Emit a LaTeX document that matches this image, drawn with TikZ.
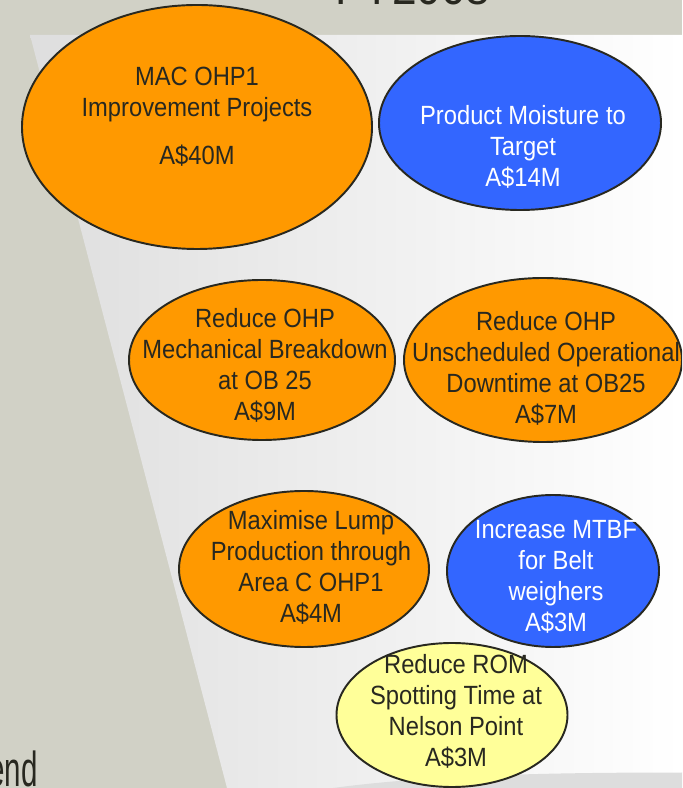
\documentclass[tikz,border=0pt]{standalone}
\usepackage{fontspec}
\setmainfont{Liberation Sans}[FakeStretch=0.9]
\newfontfamily\legendfont{Liberation Sans}[FakeStretch=0.6]
\usetikzlibrary{
  shapes.geometric
}

\definecolor{bggray}{RGB}{209,209,198}
\definecolor{funnelgray}{RGB}{222,222,222}
\definecolor{bandgray}{RGB}{221,221,221}
\definecolor{inkdark}{RGB}{40,40,32}
\definecolor{projorange}{RGB}{255,153,0}
\definecolor{projblue}{RGB}{51,102,255}
\definecolor{projyellow}{RGB}{255,255,153}

\begin{document}
\begin{tikzpicture}

\tikzset{
  project/.style={
    draw=inkdark,
    ellipse,
    line width=1.1pt,
    inner sep=0pt
  },
  orangeproj/.style={project, fill=projorange},
  blueproj/.style={project, fill=projblue},
  yellowproj/.style={project, fill=projyellow},
  projtext/.style={
    align=center,
    inner sep=0pt,
    text=inkdark,
    font=\fontsize{15}{17.6}\selectfont
  },
  whitetext/.style={projtext, text=white}
}

% Background and funnel
\clip (0,0) rectangle (13.64,15.76);
\fill[bggray] (0,0) rectangle (13.64,15.76);
\shade[left color=funnelgray, right color=white]
  (0.60,15.06) -- (13.64,15.06) -- (13.64,0) -- (4.54,0) -- cycle;
\fill[bandgray] (6.66,0) .. controls (8.6,0.26) and (11.0,0.31) .. (13.64,0.31) -- (13.64,0) -- cycle;

% Headings (cut by the frame)
\node[anchor=base, text=inkdark, font=\fontsize{28}{32}\selectfont] (title) at (8.26,15.66) {FY2008};
\node[anchor=base east, text=inkdark, font=\legendfont\fontsize{28}{32}\selectfont] (legend) at (0.88,0.02) {Legend};

% Nodes ellipses
\node[orangeproj, minimum width=7.00cm, minimum height=4.88cm] (mac)    at (3.94,13.22) {};
\node[blueproj,   minimum width=5.64cm, minimum height=3.48cm] (moist)  at (10.40,13.30) {};
\node[orangeproj, minimum width=5.32cm, minimum height=3.20cm] (mech)   at (5.24,8.56) {};
\node[orangeproj, minimum width=5.56cm, minimum height=3.28cm] (unsch)  at (10.86,8.56) {};
\node[orangeproj, minimum width=5.00cm, minimum height=3.12cm] (lump)   at (6.08,4.38) {};
\node[blueproj,   minimum width=4.24cm, minimum height=3.04cm] (mtbf)   at (11.06,4.34) {};
\node[yellowproj, minimum width=4.62cm, minimum height=2.88cm] (rom)    at (9.04,1.46) {};

% Nodes texts
\node[projtext]  (mac-t)   at (3.94,13.43)  {MAC OHP1\\Improvement Projects\\[0.34cm]A\$40M};
\node[whitetext] (moist-t) at (10.46,12.82) {Product Moisture to\\Target\\A\$14M};
\node[projtext]  (mech-t)  at (5.30,8.46)   {Reduce OHP\\Mechanical Breakdown\\at OB 25\\A\$9M};
\node[projtext]  (unsch-t) at (10.92,8.40)  {Reduce OHP\\Unscheduled Operational\\Downtime at OB25\\A\$7M};
\node[projtext]  (lump-t)  at (6.22,4.42)   {Maximise Lump\\Production through\\Area C OHP1\\A\$4M};
\node[whitetext] (mtbf-t)  at (11.12,4.22)  {Increase MTBF\\for Belt\\weighers\\A\$3M};
\node[projtext]  (rom-t)   at (9.12,1.54)   {Reduce ROM\\Spotting Time at\\Nelson Point\\A\$3M};

\end{tikzpicture}
\end{document}
